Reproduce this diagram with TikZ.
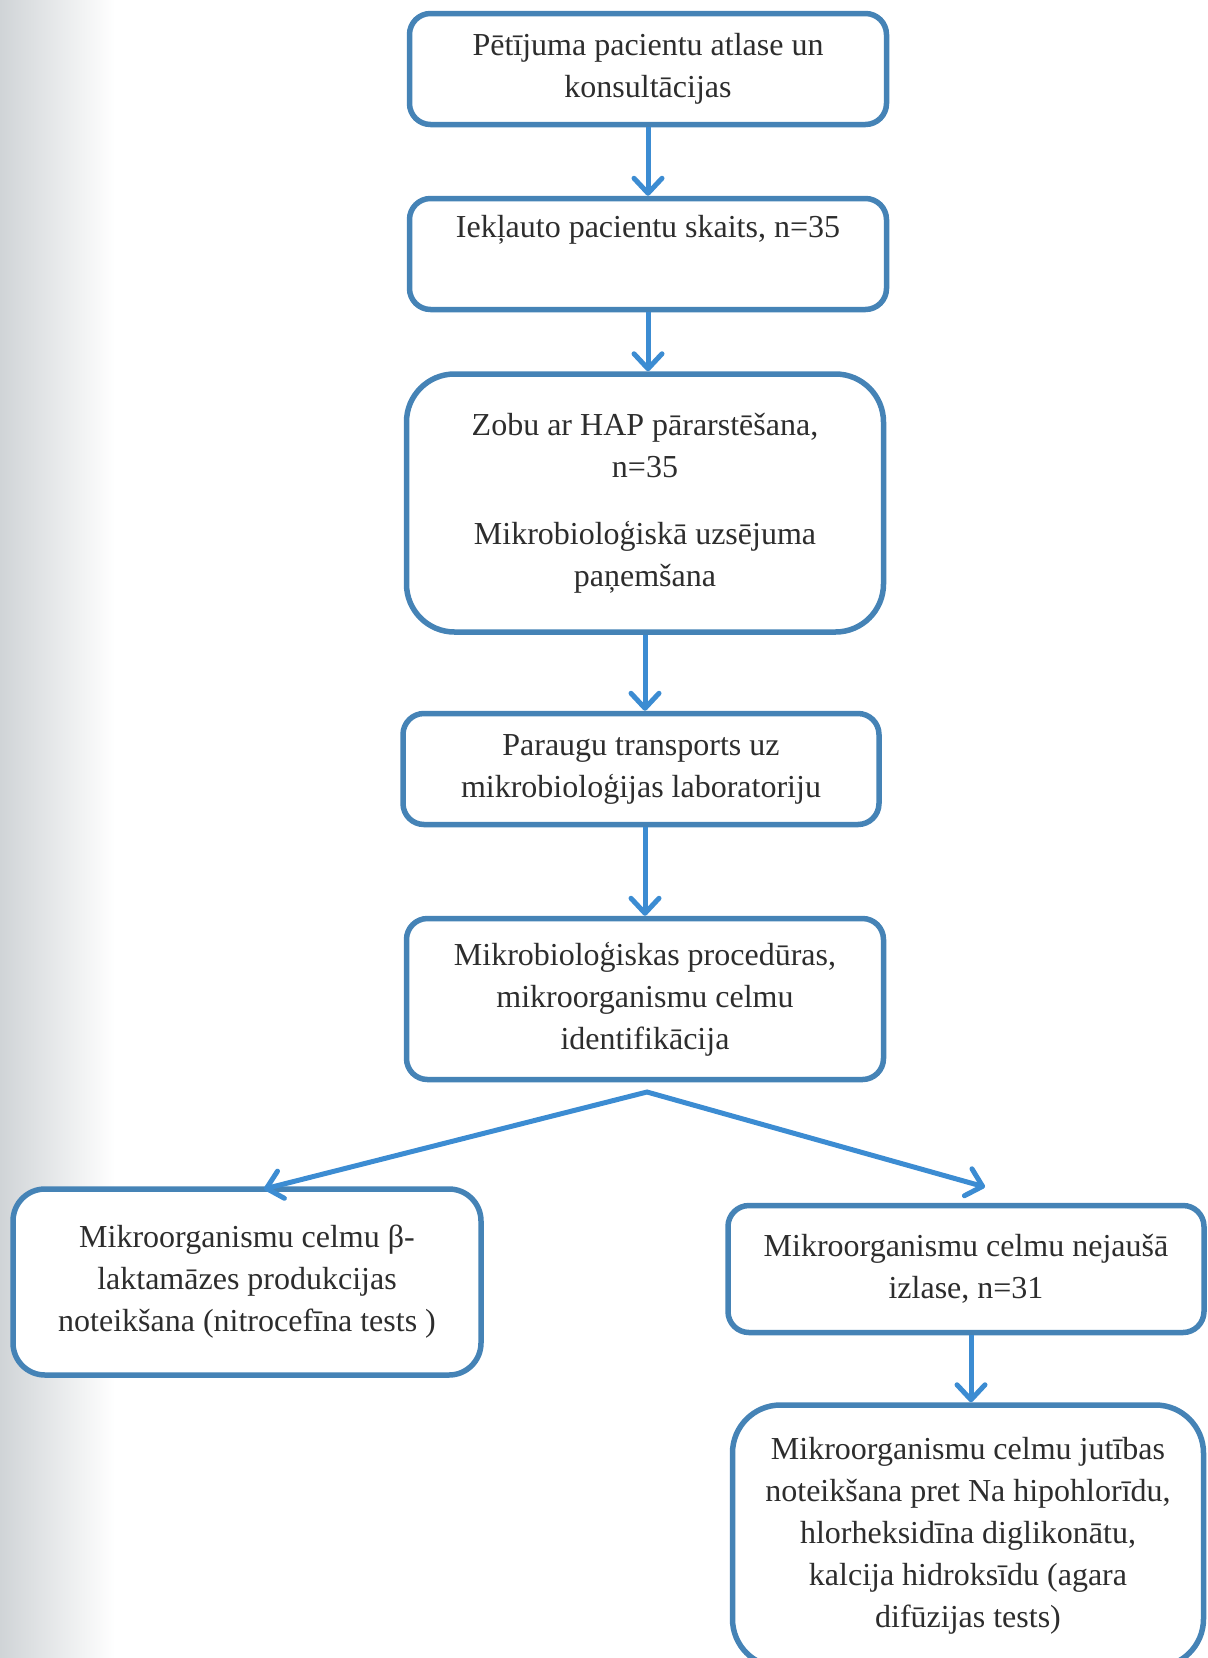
\documentclass[tikz,border=0pt]{standalone}
\usepackage{fontspec}
\setmainfont{Liberation Serif}
\usetikzlibrary{arrows.meta}

\definecolor{boxblue}{RGB}{69,131,182}
\definecolor{arrowblue}{RGB}{60,140,210}
\definecolor{inkgray}{RGB}{45,45,45}
\definecolor{scanbg}{RGB}{208,212,215}

\begin{document}
\begin{tikzpicture}[x=1pt, y=-1pt,
  stage/.style={draw=boxblue, line width=5.5pt, rounded corners=21pt, fill=white,
    text=inkgray, align=center, inner sep=0pt,
    font=\fontsize{32}{42}\selectfont},
  bigstage/.style={stage, rounded corners=48pt},
  barb/.tip={Straight Barb[length=15pt, width=28pt, round]},
  arr/.style={draw=arrowblue, line width=5pt, -barb}]

\useasboundingbox (0,0) rectangle (1208,1658);
\clip (0,0) rectangle (1208,1658);

% scanned page edge
\shade[left color=scanbg, right color=white] (0,0) rectangle (115,1658);

% main column
\node[stage, minimum width=477pt, minimum height=111pt] (b1) at (648,69)
  {Pētījuma pacientu atlase un\\konsultācijas};
\node[stage, minimum width=477pt, minimum height=111pt] (b2) at (648,254)
  {Iekļauto pacientu skaits, n=35\\\strut};
\node[bigstage, minimum width=477pt, minimum height=258pt] (b3) at (645,503)
  {Zobu ar HAP pārarstēšana,\\n=35\\[25pt]Mikrobioloģiskā uzsējuma\\paņemšana};
\node[stage, minimum width=476pt, minimum height=111pt] (b4) at (641,769)
  {Paraugu transports uz\\mikrobioloģijas laboratoriju};
\node[stage, minimum width=477pt, minimum height=161pt] (b5) at (645,999)
  {Mikrobioloģiskas procedūras,\\mikroorganismu celmu\\identifikācija};

% branches
\node[stage, rounded corners=32pt, minimum width=468pt, minimum height=186pt] (b6) at (247,1282)
  {Mikroorganismu celmu β-\\laktamāzes produkcijas\\noteikšana (nitrocefīna tests )};
\node[stage, minimum width=476pt, minimum height=127pt] (b7) at (966,1269)
  {Mikroorganismu celmu nejaušā\\izlase, n=31};
\node[bigstage, minimum width=471pt, minimum height=262pt] (b8) at (968,1536)
  {Mikroorganismu celmu jutības\\noteikšana pret Na hipohlorīdu,\\hlorheksidīna diglikonātu,\\kalcija hidroksīdu (agara\\difūzijas tests)};

\coordinate (split) at (647,1092);
\coordinate (ltip) at (264,1189);
\coordinate (rtip) at (985,1187);

% arrows
\draw[arr] (b1.south) -- (b2.north);
\draw[arr] (b2.south) -- (b2.south |- b3.north);
\draw[arr] (b3.south) -- (b3.south |- b4.north);
\draw[arr] (b4.south -| b3.south) -- (b5.north);
\draw[arr, barb-barb] (ltip) -- (split) -- (rtip);
\draw[arr] (b7.south -| 971,0) -- (b8.north -| 971,0);

\end{tikzpicture}
\end{document}
